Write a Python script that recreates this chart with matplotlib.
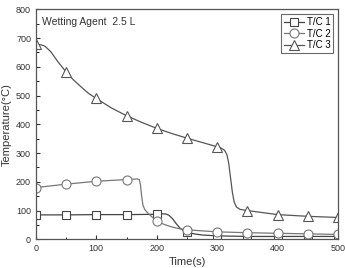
import numpy as np
import matplotlib
matplotlib.use('Agg')
import matplotlib.pyplot as plt

plt.rcParams['font.family'] = ['Liberation Sans', 'DejaVu Sans']

# hand-read curves (denser points where the curves bend)
t1 = [0, 50, 100, 150, 200, 208, 215, 220, 226, 232, 238, 244, 250, 262, 275, 300,
      350, 400, 450, 500]
c1 = [85, 85, 86, 86, 87, 89, 88, 84, 72, 55, 40, 30, 24, 19, 15, 12,
      10, 10, 10, 10]

t2 = [0, 50, 100, 150, 168, 171, 173, 175, 177, 180, 185, 192, 200, 212, 225, 237,
      250, 300, 350, 400, 450, 500]
c2 = [180, 192, 202, 208, 210, 208, 190, 150, 120, 104, 92, 78, 64, 52, 43, 37,
      33, 26, 23, 21, 19, 17]

t3 = [0, 8, 15, 25, 35, 50, 62, 75, 87, 100, 125, 150, 175, 200, 225, 250, 275, 300,
      306, 312, 316, 319, 322, 325, 328, 332, 338, 350, 400, 450, 500]
c3 = [678, 677, 672, 652, 622, 582, 555, 530, 508, 490, 457, 430, 407, 386, 368, 352,
      337, 322, 318, 310, 295, 265, 215, 165, 130, 112, 104, 100, 86, 80, 76]

mark_t = [0, 50, 100, 150, 200, 250, 300, 350, 400, 450, 500]
labels = ['T/C 1', 'T/C 2', 'T/C 3']

fig = plt.figure(figsize=(3.45, 2.68), dpi=100)
ax = fig.add_axes([0.104, 0.107, 0.876, 0.858])

styles = [('s', 6, '#444444'), ('o', 6.5, '#777777'), ('^', 7.5, '#555555')]
for (t, c), lab, (m, ms, col) in zip([(t1, c1), (t2, c2), (t3, c3)], labels, styles):
    idx = list(np.where(np.isin(t, mark_t))[0])
    ax.plot(t, c, color=col, lw=0.9, marker=m, ms=ms, mfc='white', mec=col,
            mew=0.8, markevery=idx, label=lab)

ax.set_xlim(0, 500)
ax.set_ylim(0, 800)
ax.set_xticks(range(0, 501, 100))
ax.set_yticks(range(0, 801, 100))
ax.set_xticks(range(50, 500, 100), minor=True)
ax.set_yticks(range(50, 800, 100), minor=True)
ax.tick_params(direction='in', labelsize=6.5, length=3, width=0.8, colors='#333333')
ax.tick_params(which='minor', direction='in', length=1.8, width=0.6)
for s in ax.spines.values():
    s.set_color('#555555')
    s.set_linewidth(0.9)

ax.set_xlabel('Time(s)', fontsize=8, color='#333333', labelpad=3)
ax.set_ylabel('Temperature(°C)', fontsize=8, color='#333333', labelpad=3)
ax.text(0.02, 0.965, 'Wetting Agent  2.5 L', transform=ax.transAxes,
        fontsize=7.5, va='top', ha='left', color='#333333')

leg = ax.legend(loc='upper right', fontsize=7, frameon=True, fancybox=False,
                edgecolor='#444444', borderaxespad=0.5, handlelength=2.0,
                handletextpad=0.3, borderpad=0.3, labelspacing=0.15)
leg.get_frame().set_linewidth(0.8)

fig.savefig('out.png', dpi=100)
